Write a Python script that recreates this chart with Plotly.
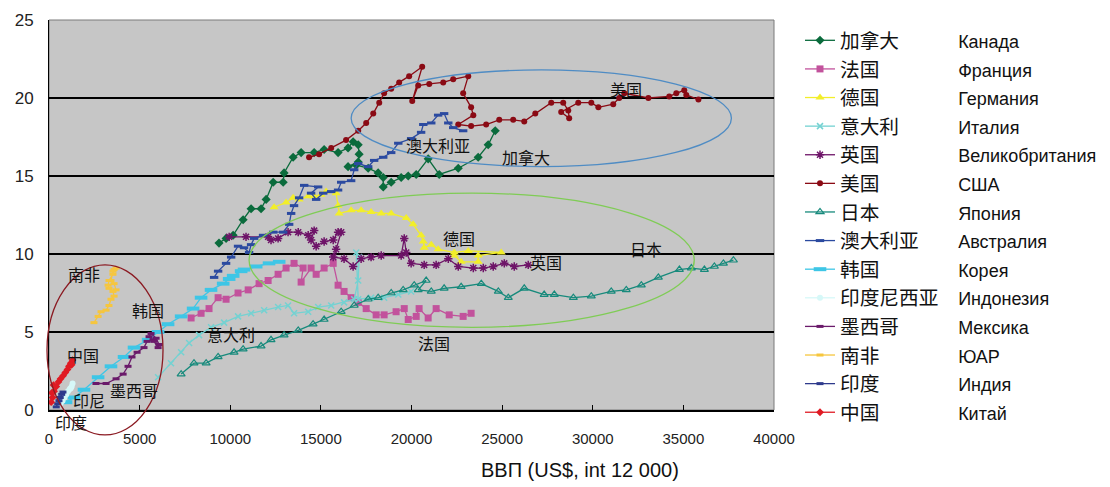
import plotly.graph_objects as go

# ---------------- data (GDP per capita, CO2 per capita) ----------------
canada_x = [9380, 9770, 10160, 10710, 11150, 11700, 11980, 12370, 12920, 12970, 13470, 13910, 14630, 15180, 15950, 16500, 16780, 17060, 17110, 17060, 16500, 16950, 17610, 18160, 18440, 18440, 18880, 19430, 19820, 20260, 20920, 21530, 22580, 23680, 24230, 24620]
canada_y = [10.7, 11.0, 11.2, 12.2, 12.9, 12.9, 13.5, 14.6, 14.6, 15.2, 16.2, 16.5, 16.5, 16.7, 16.5, 16.8, 17.2, 17.0, 16.4, 15.9, 15.6, 15.7, 15.5, 15.2, 14.9, 14.3, 14.6, 14.9, 15.0, 15.1, 16.1, 15.1, 15.5, 16.2, 17.0, 17.9]

france_x = [7840, 8390, 8830, 9330, 9770, 10430, 10990, 11590, 12090, 12640, 13080, 13520, 14020, 13910, 14460, 14740, 15180, 15680, 15950, 16280, 16670, 17060, 17500, 18050, 18490, 19150, 19600, 19820, 20260, 20420, 20920, 21360, 22080, 22850, 23290]
france_y = [5.9, 6.2, 6.5, 7.2, 7.1, 7.5, 7.7, 8.1, 8.3, 8.7, 9.1, 9.4, 9.1, 8.2, 9.1, 8.7, 9.1, 9.4, 8.0, 7.6, 7.2, 6.9, 6.5, 6.1, 6.1, 6.3, 6.5, 5.8, 6.0, 6.5, 5.9, 6.5, 6.1, 6.0, 6.2]

germany_x = [12420, 13080, 13470, 13800, 14300, 14630, 15010, 15290, 15840, 15950, 16010, 16670, 17220, 17770, 18330, 18880, 19710, 20090, 20530, 20650, 20700, 21090, 21470, 22360, 23130, 24950, 23680, 23680, 22740, 22360]
germany_y = [13.0, 13.3, 13.6, 13.5, 13.7, 13.7, 13.8, 14.0, 13.9, 13.1, 12.6, 12.8, 12.8, 12.7, 12.6, 12.6, 12.3, 11.9, 11.2, 10.8, 10.4, 10.6, 10.3, 10.1, 10.2, 10.1, 9.9, 9.5, 9.5, 9.9]

italy_x = [6020, 6730, 7290, 7730, 8280, 8940, 9660, 10430, 11150, 11870, 12640, 13190, 13520, 14300, 14850, 15570, 16280, 16840, 17060, 17110, 16950, 17060, 17770, 18490, 19270, 19980]
italy_y = [2.1, 3.0, 3.7, 4.3, 4.8, 5.3, 5.6, 6.0, 6.2, 6.4, 6.6, 6.7, 6.2, 6.3, 6.6, 6.7, 6.9, 7.1, 8.3, 9.8, 10.1, 7.1, 7.2, 7.2, 7.4, 7.6]

uk_x = [9940, 10870, 12090, 12250, 12640, 13190, 13750, 14300, 14630, 14460, 14740, 15180, 15680, 15950, 16120, 15840, 15680, 16280, 16780, 17220, 17770, 18330, 19430, 19600, 19710, 19980, 20700, 21360, 22030, 22580, 23410, 23960, 24510, 25120, 25670, 26440]
uk_y = [11.1, 11.1, 11.1, 10.9, 11.0, 11.4, 11.4, 11.2, 11.5, 10.9, 10.5, 10.8, 10.9, 11.4, 11.4, 10.3, 9.8, 9.7, 9.2, 9.7, 9.8, 9.9, 9.9, 11.0, 10.1, 9.4, 9.3, 9.3, 9.7, 9.2, 9.1, 9.1, 9.2, 9.4, 9.2, 9.3]

usa_x = [14350, 14900, 15570, 16390, 17060, 17500, 17890, 18220, 18490, 18880, 19320, 19870, 20590, 20040, 20370, 20980, 21750, 22300, 23130, 22850, 23290, 23410, 22580, 23290, 24120, 24840, 25610, 26220, 26830, 27710, 28370, 28650, 28700, 28260, 29200, 29920, 30310, 31130, 31460, 31740, 33070, 34220, 34610, 35050, 35160, 35830]
usa_y = [16.2, 16.4, 16.8, 17.3, 17.9, 18.4, 19.0, 19.7, 20.3, 20.6, 21.0, 21.4, 22.0, 19.8, 20.8, 20.9, 21.0, 21.2, 21.4, 20.3, 19.4, 18.9, 18.3, 18.2, 18.3, 18.6, 18.6, 18.5, 19.0, 19.7, 19.7, 19.2, 18.7, 19.1, 19.7, 19.7, 19.4, 19.6, 20.0, 20.3, 20.0, 20.1, 20.3, 20.5, 20.2, 19.9]

japan_x = [7290, 8000, 8670, 9330, 10210, 10710, 11700, 12250, 12970, 13750, 14570, 15180, 16120, 16840, 17610, 18160, 18880, 19540, 20150, 20810, 20370, 21090, 21800, 22740, 23850, 24790, 25340, 26220, 27320, 27880, 28930, 29920, 31020, 31850, 32680, 33620, 34780, 35440, 36160, 36710, 37210, 37760]
japan_y = [2.3, 3.0, 3.0, 3.4, 3.7, 3.9, 4.1, 4.5, 4.8, 5.1, 5.5, 5.8, 6.3, 6.7, 7.1, 7.2, 7.5, 7.7, 8.0, 8.3, 7.7, 7.6, 7.8, 7.9, 8.1, 7.6, 7.2, 7.8, 7.4, 7.4, 7.2, 7.3, 7.6, 7.7, 8.0, 8.5, 9.0, 9.1, 9.0, 9.2, 9.4, 9.6]

australia_x = [9110, 9330, 9770, 10050, 10430, 10760, 11040, 11150, 11320, 11810, 12370, 12920, 13250, 13360, 13520, 13800, 14080, 14850, 14460, 14740, 15130, 15570, 15950, 16120, 16670, 16840, 17060, 17610, 17940, 18440, 18880, 19270, 19980, 20530, 20650, 21090, 21470, 21800, 22030, 22300, 22850]
australia_y = [8.5, 8.9, 9.4, 9.8, 10.5, 10.4, 10.1, 10.6, 11.0, 11.2, 11.4, 11.4, 11.9, 12.6, 13.1, 13.6, 14.4, 14.3, 13.9, 13.5, 13.9, 14.0, 14.1, 14.6, 14.7, 15.4, 15.8, 15.6, 16.0, 16.2, 16.5, 17.1, 17.4, 17.8, 18.3, 18.4, 18.9, 19.0, 18.4, 18.1, 17.9]

korea_x = [940, 1380, 1930, 2710, 3420, 4140, 4690, 5470, 6020, 6570, 7290, 7950, 8390, 8940, 9610, 10160, 10760, 9940, 10600, 11430, 12140, 12700]
korea_y = [0.5, 0.8, 1.3, 2.1, 2.8, 3.4, 4.0, 4.5, 5.0, 5.5, 6.0, 6.5, 7.2, 7.7, 8.1, 8.6, 9.0, 8.4, 8.9, 9.2, 9.4, 9.5]

indonesia_x = [650, 750, 850, 950, 1050, 1150, 1250, 1200, 1300]
indonesia_y = [0.45, 0.6, 0.8, 1.0, 1.2, 1.35, 1.5, 1.4, 1.7]

mexico_x = [2590, 3150, 3700, 4090, 4360, 4580, 4860, 5240, 5410, 5740, 6020, 6070, 5910, 5630, 5520, 5800]
mexico_y = [1.7, 1.7, 2.0, 2.3, 2.8, 3.4, 3.7, 4.0, 4.4, 4.5, 4.0, 4.2, 4.6, 4.9, 4.7, 4.4]

safrica_x = [2480, 2710, 2870, 3150, 3310, 3420, 3590, 3530, 3310, 3260, 3310, 3530, 3590, 3700, 3530, 3420, 3590, 3700]
safrica_y = [5.6, 6.0, 6.3, 6.4, 6.7, 7.1, 7.3, 7.6, 7.8, 8.0, 8.3, 8.7, 9.0, 9.1, 8.9, 8.3, 8.1, 7.7]

india_x = [400, 480, 550, 620, 700, 770]
india_y = [0.2, 0.4, 0.6, 0.8, 1.0, 1.15]

china_x = [120, 200, 150, 280, 250, 400, 520, 640, 780, 900, 1020, 1100, 1200, 1300, 1250]
china_y = [0.5, 0.8, 1.1, 1.2, 1.6, 1.5, 1.8, 2.0, 2.2, 2.4, 2.6, 2.8, 3.0, 3.2, 2.9]

names_zh = ["加拿大", "法国", "德国", "意大利", "英国", "美国", "日本", "澳大利亚",
            "韩国", "印度尼西亚", "墨西哥", "南非", "印度", "中国"]
names_ru = ["Канада", "Франция", "Германия", "Италия", "Великобритания", "США", "Япония",
            "Австралия", "Корея", "Индонезия", "Мексика", "ЮАР", "Индия", "Китай"]

x_ticks = [0, 5000, 10000, 15000, 20000, 25000, 30000, 35000, 40000]
y_ticks = [0, 5, 10, 15, 20, 25]
x_title = "ВВП (US$, int 12 000)"

# in-chart labels (text, x, y)
labels = [("美国", 31850, 20.6), ("澳大利亚", 21470, 17.0), ("加拿大", 26330, 16.2),
          ("德国", 22630, 11.0), ("英国", 27430, 9.5), ("日本", 32950, 10.3),
          ("意大利", 10050, 4.9), ("法国", 21250, 4.3), ("南非", 1930, 8.7),
          ("韩国", 5470, 6.4), ("中国", 1880, 3.5), ("墨西哥", 4690, 1.3),
          ("印尼", 2210, 0.65)]
label_below = ("印度", 1200, -0.8)

# ellipses: (x0, x1, y0, y1, colour) in data units
ellipses = [(16670, 37650, 15.6, 21.8, "#4f8cc4"),
            (11040, 35600, 5.3, 13.9, "#7fcc55"),
            (-110, 6290, -1.6, 9.3, "#8b1a22")]

X_RANGE = [0, 40000]
Y_RANGE = [0, 25]

# ---------------- styles ----------------
series = [
    (canada_x, canada_y, "#0a6b3c", dict(symbol="diamond", size=7)),
    (france_x, france_y, "#c2529c", dict(symbol="square", size=7)),
    (germany_x, germany_y, "#f2ee2a", dict(symbol="triangle-up", size=8)),
    (italy_x, italy_y, "#74d2d2", dict(symbol="x-thin-open", size=6, line=dict(width=1.5, color="#74d2d2"))),
    (uk_x, uk_y, "#6e1468", dict(symbol="asterisk-open", size=7, line=dict(width=1.5, color="#6e1468"))),
    (usa_x, usa_y, "#8a0a14", dict(symbol="circle", size=6)),
    (japan_x, japan_y, "#178a7c", dict(symbol="triangle-up-open", size=7, line=dict(width=1.2, color="#178a7c"))),
    (australia_x, australia_y, "#2b4aa0", dict(symbol="line-ew-open", size=6, line=dict(width=3, color="#2b4aa0"))),
    (korea_x, korea_y, "#3ec6e6", dict(symbol="line-ew-open", size=9, line=dict(width=4, color="#3ec6e6"))),
    (indonesia_x, indonesia_y, "#d6f8f8", dict(symbol="circle", size=6)),
    (mexico_x, mexico_y, "#6a1a6a", dict(symbol="line-ew-open", size=5, line=dict(width=3, color="#6a1a6a"))),
    (safrica_x, safrica_y, "#f6c63e", dict(symbol="line-ew-open", size=5, line=dict(width=3, color="#f6c63e"))),
    (india_x, india_y, "#2e3a8c", dict(symbol="line-ew-open", size=5, line=dict(width=3, color="#2e3a8c"))),
    (china_x, china_y, "#e01b24", dict(symbol="diamond", size=6)),
]

fig = go.Figure()
for i, (xs, ys, col, mk) in enumerate(series):
    zh = names_zh[i]
    pad = "\u3000" * (6 - len(zh))
    mk = dict(mk)
    mk.setdefault("color", col)
    fig.add_trace(go.Scatter(
        x=xs, y=ys, mode="lines+markers",
        name=zh + pad + '<span style="font-size:18px">' + names_ru[i] + "</span>",
        line=dict(color=col, width=1.3), marker=mk, legendgroup=str(i)))

# geometry (page body has an 8px margin at top/left)
OFF = 8
W, H = 1110 - OFF, 487 - OFF
L, T = 49 - OFF, 20 - OFF
PR, PB = 774 - OFF, 410 - OFF      # plot right / bottom in figure pixels
R, B = W - PR, H - PB
pw, ph = PR - L, PB - T

def px_x(v):
    return (v - X_RANGE[0]) / (X_RANGE[1] - X_RANGE[0])

def px_y(v):
    return (v - Y_RANGE[0]) / (Y_RANGE[1] - Y_RANGE[0])

def scr_x(sx):
    return (sx - OFF - L) / pw

def scr_y(sy):
    return (PB - (sy - OFF)) / ph

shapes = []
for x0, x1, y0, y1, col in ellipses:
    shapes.append(dict(type="circle", xref="paper", yref="paper",
                       x0=px_x(x0), x1=px_x(x1), y0=px_y(y0), y1=px_y(y1),
                       line=dict(color=col, width=1.3), layer="above"))
shapes.append(dict(type="rect", xref="paper", yref="paper", x0=0, x1=1, y0=0, y1=1,
                   line=dict(color="#7a7a7a", width=1), layer="below"))

cjk = dict(family="Noto Sans CJK SC", size=16, color="#111")
annotations = []
for txt, ax_, ay_ in labels:
    annotations.append(dict(text=txt, x=ax_, y=ay_, xref="x", yref="y", showarrow=False,
                            xanchor="center", yanchor="middle", font=cjk))
annotations.append(dict(text=label_below[0], x=px_x(label_below[1]), y=px_y(label_below[2]),
                        xref="paper", yref="paper", showarrow=False,
                        xanchor="center", yanchor="middle", font=cjk))
annotations.append(dict(text=x_title, x=scr_x(580), y=scr_y(470), xref="paper", yref="paper",
                        showarrow=False, xanchor="center", yanchor="middle",
                        font=dict(family="Liberation Sans Narrow, Liberation Sans", size=20, color="#111")))

fig.update_layout(
    width=W, height=H,
    margin=dict(l=L, r=R, t=T, b=B, pad=0, autoexpand=False),
    paper_bgcolor="white", plot_bgcolor="#c6c6c6",
    showlegend=True,
    legend=dict(x=scr_x(800), y=scr_y(21), xanchor="left", yanchor="top",
                font=dict(family="Liberation Sans, Noto Sans CJK SC", size=19.7, color="#111"),
                bgcolor="rgba(0,0,0,0)", tracegroupgap=0, itemwidth=30, maxheight=470),
    xaxis=dict(range=X_RANGE, tickvals=x_ticks, ticktext=[str(v) for v in x_ticks],
               showgrid=False, zeroline=False, showline=True, linecolor="black", linewidth=1.5,
               ticks="inside", ticklen=5, tickcolor="black", ticklabelstandoff=14,
               tickfont=dict(family="Liberation Sans", size=15, color="#222")),
    yaxis=dict(range=Y_RANGE, tickvals=y_ticks, showgrid=True, gridcolor="black", gridwidth=1.5,
               zeroline=False, showline=True, linecolor="black", linewidth=1,
               ticks="", ticklabelstandoff=11,
               tickfont=dict(family="Liberation Sans", size=17, color="#222")),
    shapes=shapes, annotations=annotations,
)

fig.write_html("out.html")
